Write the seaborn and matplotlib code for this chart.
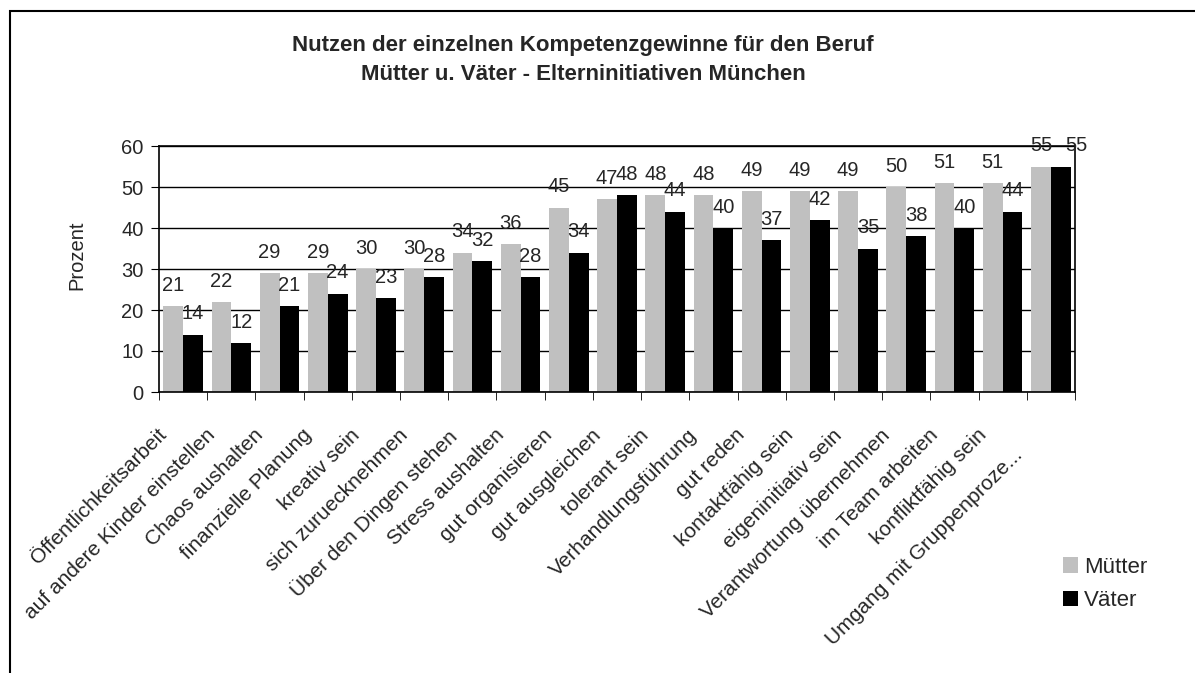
import numpy as np
import pandas as pd
import matplotlib
import matplotlib.pyplot as plt
import seaborn as sns
from matplotlib.patches import Rectangle
from matplotlib.transforms import ScaledTranslation

matplotlib.use('Agg')

# Daten
kategorien = [
    'Öffentlichkeitsarbeit', 'auf andere Kinder einstellen', 'Chaos aushalten',
    'finanzielle Planung', 'kreativ sein', 'sich zuruecknehmen',
    'Über den Dingen stehen', 'Stress aushalten', 'gut organisieren',
    'gut ausgleichen', 'tolerant sein', 'Verhandlungsführung', 'gut reden',
    'kontaktfähig sein', 'eigeninitiativ sein', 'Verantwortung übernehmen',
    'im Team arbeiten', 'konfliktfähig sein', 'Umgang mit Gruppenproze...',
]
muetter = [21, 22, 29, 29, 30, 30, 34, 36, 45, 47, 48, 48, 49, 49, 49, 50, 51, 51, 55]
vaeter = [14, 12, 21, 24, 23, 28, 32, 28, 34, 48, 44, 40, 37, 42, 35, 38, 40, 44, 55]
gruppen = ['Mütter', 'Väter']
farben = {'Mütter': '#c0c0c0', 'Väter': '#000000'}

df = pd.DataFrame({
    'Kompetenz': kategorien * 2,
    'Prozent': muetter + vaeter,
    'Gruppe': [gruppen[0]] * len(muetter) + [gruppen[1]] * len(vaeter),
})

sns.set_style('white')
plt.rcParams['font.family'] = ['Liberation Sans', 'DejaVu Sans']

W, H = 1195, 673
fig = plt.figure(figsize=(W / 100, H / 100), dpi=100)
ax = fig.add_axes([159 / W, 1 - 392 / H, (1075 - 159) / W, (392 - 146) / H])

sns.barplot(data=df, x='Kompetenz', y='Prozent', hue='Gruppe', palette=farben,
            width=0.82, saturation=1, linewidth=0, ax=ax)

# Achsen
ax.set_ylim(0, 60)
ax.set_yticks(np.arange(0, 61, 10))
ax.set_xlim(-0.5, len(kategorien) - 0.5)
ax.yaxis.grid(True, color='black', linewidth=1)
ax.set_axisbelow(True)
for s in ax.spines.values():
    s.set_color('black')
    s.set_linewidth(1.2)

ax.set_xticks(range(len(kategorien)))
ax.set_xticklabels(kategorien, rotation=45, ha='right', rotation_mode='anchor', fontsize=15)
ax.set_xticks(np.arange(-0.5, len(kategorien), 1), minor=True)
ax.tick_params(axis='x', which='major', length=0, pad=24)
ax.tick_params(axis='x', which='minor', length=6, color='black', direction='out', bottom=True)
ax.tick_params(axis='y', length=6, color='black', direction='out', left=True, pad=5, labelsize=14.5)
xlabs = ax.get_xticklabels()
for lab in xlabs:
    lab.set_transform(lab.get_transform() + ScaledTranslation(-26 / 100, 0, fig.dpi_scale_trans))
# letzte Beschriftung sitzt im Original tiefer
xlabs[-1].set_transform(xlabs[-1].get_transform() + ScaledTranslation(-12 / 100, -20 / 100, fig.dpi_scale_trans))

ax.set_xlabel('')
ax.set_ylabel('Prozent', fontsize=14.5)
ax.yaxis.set_label_coords(-0.079, 0.557)

# Werte über den Balken
texte = []
for c in ax.containers:
    texte.append(ax.bar_label(c, fmt='%d', padding=8, fontsize=14.5))
# letzter Väter-Wert steht im Original etwas rechts
texte[1][-1].xyann = (11, 8)

# Legende unten rechts
handles, labels = ax.get_legend_handles_labels()
ax.get_legend().remove()
fig.legend(handles, labels, loc='upper left', bbox_to_anchor=(1054 / W, 1 - 548 / H),
           frameon=False, fontsize=16, handlelength=0.7, handleheight=0.7,
           handletextpad=0.25, labelspacing=0.55, borderaxespad=0)

# Titel
fig.text(583 / W, 1 - 60 / H, 'Nutzen der einzelnen Kompetenzgewinne für den Beruf\n'
         'Mütter u. Väter - Elterninitiativen München',
         ha='center', va='center', fontsize=16, fontweight='bold', linespacing=1.55)

# Rahmen
fig.add_artist(Rectangle((10 / W, -0.1), 1.2, 1 - 11 / H + 0.1, fill=False,
                         edgecolor='black', linewidth=1.5, transform=fig.transFigure, clip_on=False))

fig.savefig('out.png', dpi=100)
